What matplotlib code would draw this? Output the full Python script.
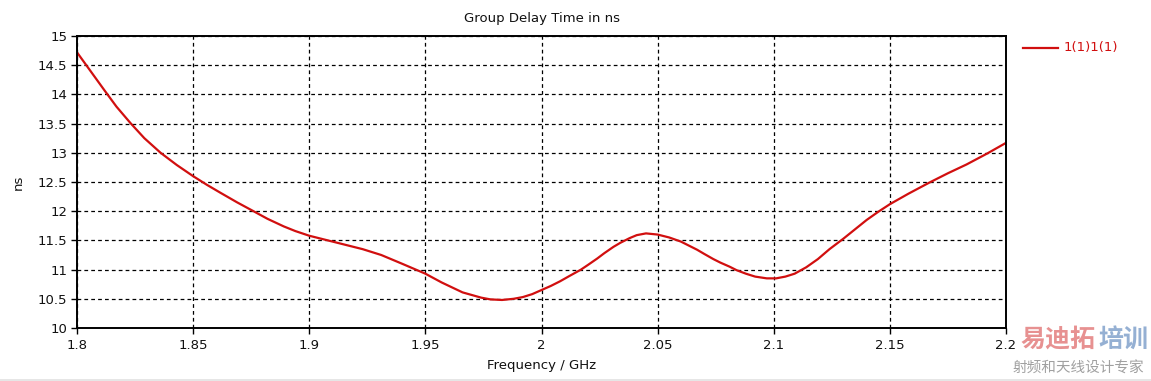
import matplotlib
matplotlib.use("Agg")
import matplotlib.pyplot as plt
from matplotlib.patches import Rectangle

# Data
freq_ghz = [1.800, 1.806, 1.812, 1.817, 1.823, 1.829, 1.836, 1.843, 1.850, 1.856,
            1.862, 1.869, 1.876, 1.882, 1.889, 1.894, 1.900, 1.906, 1.912, 1.917,
            1.923, 1.931, 1.940, 1.950, 1.957, 1.966, 1.974, 1.978, 1.983, 1.988,
            1.992, 1.996, 2.000, 2.004, 2.008, 2.012, 2.017, 2.020, 2.024, 2.027,
            2.031, 2.034, 2.038, 2.041, 2.045, 2.050, 2.055, 2.060, 2.063, 2.067,
            2.070, 2.074, 2.077, 2.081, 2.084, 2.088, 2.092, 2.097, 2.101, 2.105,
            2.109, 2.114, 2.119, 2.124, 2.130, 2.135, 2.140, 2.145, 2.150, 2.158,
            2.167, 2.175, 2.183, 2.192, 2.200]
delay_ns = [14.72, 14.39, 14.06, 13.79, 13.51, 13.25, 13.00, 12.79, 12.60, 12.45,
            12.31, 12.15, 12.00, 11.87, 11.74, 11.66, 11.58, 11.52, 11.46, 11.41,
            11.35, 11.25, 11.10, 10.93, 10.78, 10.61, 10.52, 10.49, 10.48, 10.50,
            10.53, 10.58, 10.65, 10.72, 10.80, 10.89, 11.00, 11.08, 11.19, 11.28,
            11.39, 11.46, 11.54, 11.59, 11.62, 11.60, 11.55, 11.48, 11.42, 11.34,
            11.27, 11.18, 11.12, 11.05, 10.99, 10.93, 10.88, 10.85, 10.85, 10.88,
            10.93, 11.04, 11.18, 11.35, 11.53, 11.69, 11.85, 11.99, 12.12, 12.30,
            12.49, 12.65, 12.80, 12.99, 13.17]
x_ticks = [1.8, 1.85, 1.9, 1.95, 2.0, 2.05, 2.1, 2.15, 2.2]
x_tick_labels = ["1.8", "1.85", "1.9", "1.95", "2", "2.05", "2.1", "2.15", "2.2"]
y_ticks = [10, 10.5, 11, 11.5, 12, 12.5, 13, 13.5, 14, 14.5, 15]
y_tick_labels = ["10", "10.5", "11", "11.5", "12", "12.5", "13", "13.5", "14", "14.5", "15"]
series_label = "1(1)1(1)"

W, H = 1151, 381
fig = plt.figure(figsize=(W / 100, H / 100), dpi=100)
fig.patch.set_facecolor("white")

left, right, top, bottom = 77, 1006, 36, 328
ax = fig.add_axes([left / W, 1 - bottom / H, (right - left) / W, (bottom - top) / H])

red = "#d10f0f"
ax.plot(freq_ghz, delay_ns, color=red, lw=1.6, solid_joinstyle="round",
        solid_capstyle="round")

ax.set_xlim(1.8, 2.2)
ax.set_ylim(10, 15)
ax.set_xticks(x_ticks)
ax.set_xticklabels(x_tick_labels)
ax.set_yticks(y_ticks)
ax.set_yticklabels(y_tick_labels)

fs = 9.5
for lab in ax.get_xticklabels() + ax.get_yticklabels():
    lab.set_fontsize(fs)
    lab.set_color("#111111")
ax.tick_params(axis="both", direction="out", length=4, width=1, color="black", pad=3)
ax.tick_params(axis="x", pad=4)

ax.grid(True, color="black", linestyle=(0, (3, 2.5)), linewidth=0.9)
for s in ax.spines.values():
    s.set_linewidth(1.4)
    s.set_color("black")

ax.set_title("Group Delay Time in ns", fontsize=fs, color="#111111", pad=10)
ax.set_xlabel("Frequency / GHz", fontsize=fs, color="#111111", labelpad=5)
ax.set_ylabel("ns", fontsize=fs, color="#111111", labelpad=9)

# legend (drawn manually to match position)
fig.add_artist(plt.Line2D([1023 / W, 1058 / W], [1 - 48 / H, 1 - 48 / H],
                          color=red, lw=1.6, transform=fig.transFigure))
fig.text(1064 / W, 1 - 48 / H, series_label, color=red, fontsize=fs,
         va="center", ha="left")

# watermark
cjk = ["Noto Sans CJK SC", "DejaVu Sans"]
fig.text(1020 / W, 1 - 340 / H, "易迪拓", family=cjk, fontsize=18, fontweight="bold",
         color="#e58585", va="center", ha="left", alpha=0.9)
fig.text(1098 / W, 1 - 340 / H, "培训", family=cjk, fontsize=18, fontweight="bold",
         color="#8aa8cf", va="center", ha="left", alpha=0.9)
fig.text(1078 / W, 1 - 369 / H, "射频和天线设计专家", family=cjk, fontsize=10.5,
         color="#a0a0a0", va="center", ha="center")

fig.add_artist(Rectangle((0, 0), 1, 2 / H, transform=fig.transFigure,
                         color="#e6e6e6", lw=0))

fig.savefig("out.png", dpi=100, facecolor="white")
